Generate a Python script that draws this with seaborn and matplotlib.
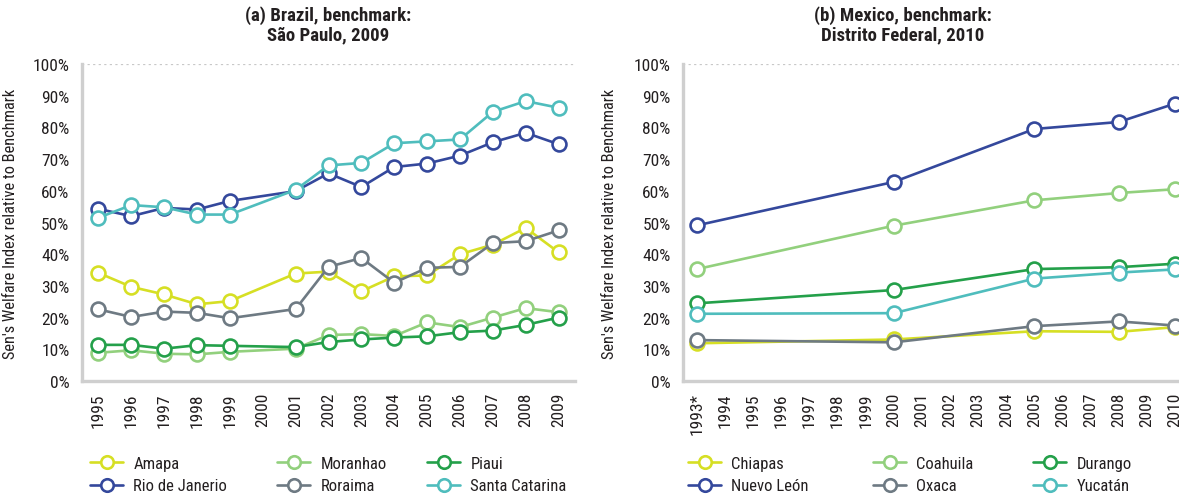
import matplotlib
matplotlib.use('Agg')
import matplotlib.pyplot as plt
import seaborn as sns
import pandas as pd
import numpy as np
from matplotlib.lines import Line2D
from matplotlib import font_manager

# ---------------- data ----------------
br_years = ['1995', '1996', '1997', '1998', '1999', '2000', '2001', '2002',
            '2003', '2004', '2005', '2006', '2007', '2008', '2009']
br_states = ['Amapa', 'Rio de Janerio', 'Moranhao', 'Roraima', 'Piaui', 'Santa Catarina']
br_amapa = [34.1, 29.7, 27.3, 24.2, 25.2, None, 33.9, 34.5, 28.3, 33.0, 33.3, 40.0, 43.0, 48.3, 40.6]
br_rio = [54.3, 52.0, 54.6, 54.1, 56.8, None, 59.9, 65.5, 61.2, 67.5, 68.6, 71.1, 75.3, 78.3, 74.7]
br_moranhao = [8.9, 9.7, 8.6, 8.4, 9.2, None, 10.2, 14.5, 14.8, 14.2, 18.5, 17.0, 20.0, 23.0, 21.7]
br_roraima = [22.6, 20.2, 21.9, 21.5, 19.8, None, 22.7, 36.0, 38.8, 31.0, 35.7, 36.0, 43.5, 44.1, 47.5]
br_piaui = [11.4, 11.4, 10.2, 11.3, 11.1, None, 10.7, 12.3, 13.1, 13.7, 14.1, 15.4, 15.9, 17.7, 20.0]
br_santa = [51.5, 55.5, 54.8, 52.5, 52.5, None, 60.3, 68.0, 68.8, 75.0, 75.6, 76.2, 84.9, 88.3, 86.2]

mx_years = ['1993*', '1994', '1995', '1996', '1997', '1998', '1999', '2000', '2001',
            '2002', '2003', '2004', '2005', '2006', '2007', '2008', '2009', '2010']
mx_obs_years = ['1993*', '2000', '2005', '2008', '2010']
mx_states = ['Chiapas', 'Nuevo León', 'Coahuila', 'Oxaca', 'Durango', 'Yucatán']
mx_chiapas = [11.9, 13.1, 15.7, 15.5, 17.0]
mx_nuevo = [49.1, 62.8, 79.5, 81.7, 87.5]
mx_coahuila = [35.3, 49.0, 57.0, 59.3, 60.5]
mx_oxaca = [12.9, 12.2, 17.3, 18.8, 17.5]
mx_durango = [24.5, 28.7, 35.3, 35.9, 37.0]
mx_yucatan = [21.2, 21.4, 32.3, 34.2, 35.2]

yticks = list(range(0, 101, 10))
ytick_labels = [f'{v}%' for v in yticks]

# colours per state (legend order, column-major)
br_colors = ['#d6df24', '#34489c', '#92d07d', '#6e7a83', '#24a04a', '#4fbdbd']
mx_colors = ['#d6df24', '#34489c', '#92d07d', '#6e7a83', '#24a04a', '#4fbdbd']

# ---------------- style ----------------
sns.set_style('white')
names = {f.name for f in font_manager.fontManager.ttflist}
fam = 'DejaVu Sans'
for cand in ['Liberation Sans Narrow', 'Roboto Condensed', 'Open Sans Condensed', 'Liberation Sans']:
    if cand in names:
        fam = cand
        break
plt.rcParams['font.family'] = [fam, 'DejaVu Sans']
TXT = '#231f20'
GRID = '#cfcfcf'


def build_df(states, years, series, obs_years):
    rows = []
    for st, vals in zip(states, series):
        for yr, v in zip(obs_years, vals):
            if v is None:
                continue
            rows.append({'state': st, 'pos': years.index(yr), 'value': v})
    return pd.DataFrame(rows)


br_df = build_df(br_states, br_years,
                 [br_amapa, br_rio, br_moranhao, br_roraima, br_piaui, br_santa], br_years)
mx_df = build_df(mx_states, mx_years,
                 [mx_chiapas, mx_nuevo, mx_coahuila, mx_oxaca, mx_durango, mx_yucatan], mx_obs_years)

W, H = 1179, 502
fig = plt.figure(figsize=(W / 100, H / 100), dpi=100)

ax1 = fig.add_axes([82 / W, 1 - 382 / H, 493 / W, 317 / H])
ax2 = fig.add_axes([683 / W, 1 - 382 / H, 506 / W, 317 / H])

FS = 12.5


def draw(ax, df, states, colors, years):
    sns.lineplot(data=df, x='pos', y='value', hue='state', hue_order=states,
                 palette=dict(zip(states, colors)), marker='o', markersize=10,
                 markerfacecolor='white', markeredgewidth=1.9, linewidth=1.9,
                 legend=False, ax=ax, sort=True, zorder=3)
    for ln in ax.lines:
        ln.set_markeredgecolor(ln.get_color())
        ln.set_clip_on(False)
    n = len(years)
    ax.axhline(100, color='#c8c8c8', linestyle=(0, (1, 1.5)), linewidth=1.6, zorder=1)
    ax.set_xlim(-0.5, n - 0.5)
    ax.set_ylim(0, 100)
    ax.set_xticks(range(n))
    ax.set_xticklabels(years, rotation=90, fontsize=FS, color=TXT)
    ax.set_xticks(np.arange(-0.5, n, 1), minor=True)
    ax.tick_params(axis='x', which='major', length=0, pad=8)
    ax.tick_params(axis='x', which='minor', length=7, width=2, color=GRID, direction='out')
    ax.set_yticks(yticks)
    ax.set_yticklabels(ytick_labels, fontsize=FS, color=TXT)
    ax.tick_params(axis='y', length=5, width=1.6, color=GRID, pad=4, direction='out')
    for s in ['top', 'right']:
        ax.spines[s].set_visible(False)
    for s in ['left', 'bottom']:
        ax.spines[s].set_color(GRID)
        ax.spines[s].set_linewidth(2.4)
    ax.set_xlabel('')
    ax.set_ylabel("Sen's Welfare Index relative to Benchmark", fontsize=11.8, color=TXT)
    ax.yaxis.set_label_coords(-0.13, 0.5)


draw(ax1, br_df, br_states, br_colors, br_years)
draw(ax2, mx_df, mx_states, mx_colors, mx_years)

fig.text(328 / W, 1 - 6 / H, '(a) Brazil, benchmark:\nSão Paulo, 2009', ha='center', va='top',
         fontsize=13.5, fontweight='bold', color=TXT, linespacing=1.1)
fig.text(903 / W, 1 - 6 / H, '(b) Mexico, benchmark:\nDistrito Federal, 2010', ha='center', va='top',
         fontsize=13.5, fontweight='bold', color=TXT, linespacing=1.1)


def legend_cols(states, colors, xs):
    handles = [Line2D([0], [0], color=c, lw=1.9, marker='o', markersize=9,
                      markerfacecolor='white', markeredgecolor=c, markeredgewidth=1.9)
               for c in colors]
    for k, x in enumerate(xs):
        hs = handles[2 * k:2 * k + 2]
        ls = states[2 * k:2 * k + 2]
        fig.legend(hs, ls, loc='upper left', bbox_to_anchor=(x / W, 1 - 457 / H),
                   frameon=False, fontsize=12, handlelength=2.0, handletextpad=0.6,
                   borderpad=0, borderaxespad=0, labelspacing=0.45, labelcolor=TXT)


legend_cols(br_states, br_colors, [90, 277, 427])
legend_cols(mx_states, mx_colors, [688, 873, 1033])

fig.savefig('out.png', dpi=100)
